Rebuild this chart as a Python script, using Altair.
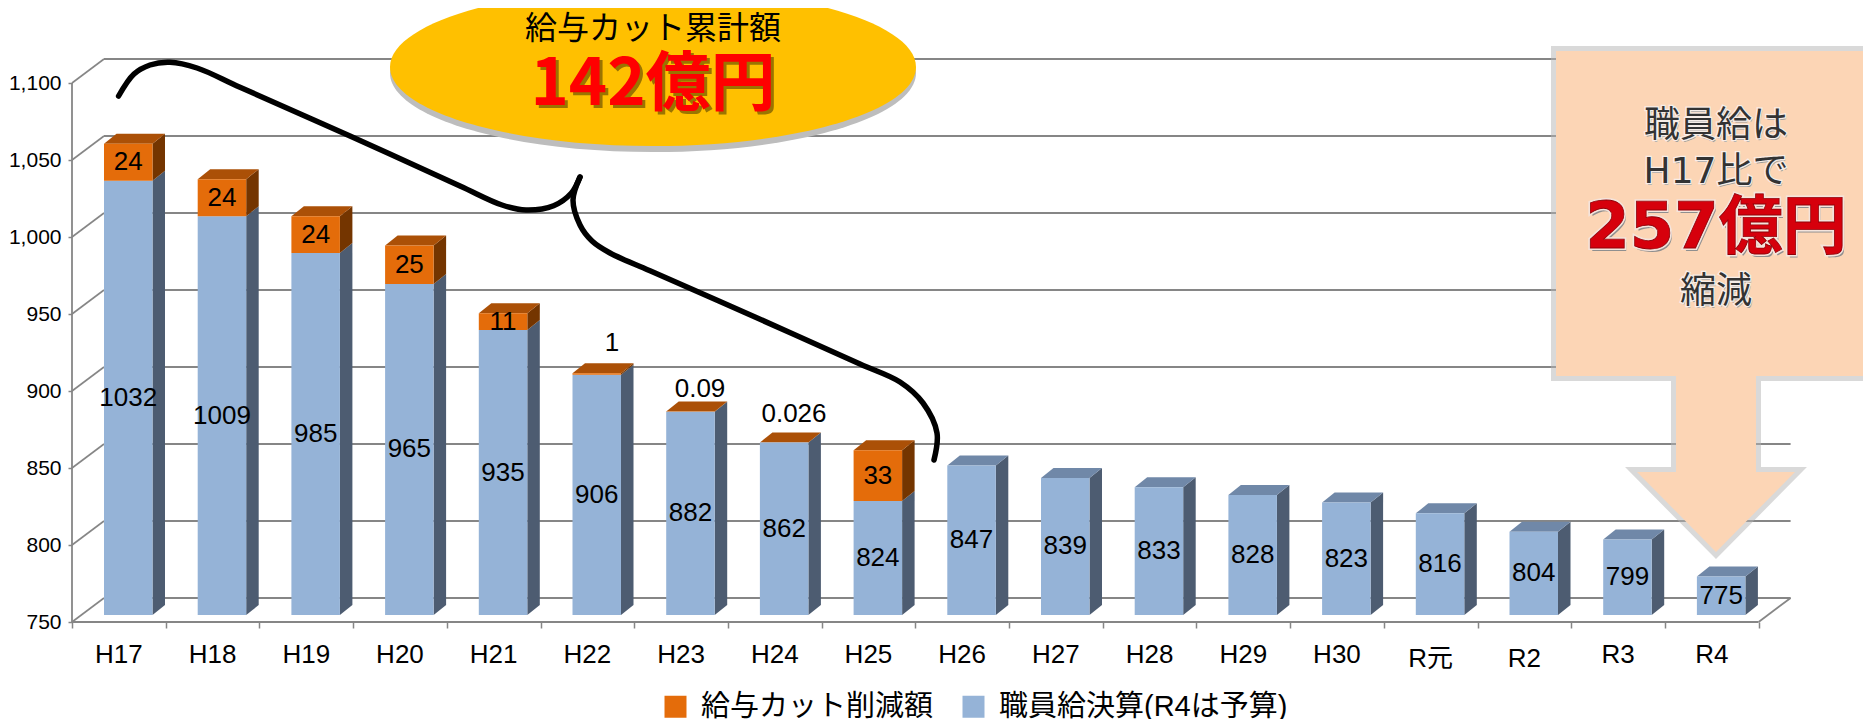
import altair as alt
import pandas as pd

# ---- data ----
YEARS = ["H17", "H18", "H19", "H20", "H21", "H22", "H23", "H24", "H25",
         "H26", "H27", "H28", "H29", "H30", "R元", "R2", "R3", "R4"]
SALARY = [1032, 1009, 985, 965, 935, 906, 882, 862, 824,
          847, 839, 833, 828, 823, 816, 804, 799, 775]
CUT = [24, 24, 24, 25, 11, 1, 0.09, 0.026, 33,
       0, 0, 0, 0, 0, 0, 0, 0, 0]
Y_TICKS = [750, 800, 850, 900, 950, 1000, 1050, 1100]
SERIES = ["給与カット削減額", "職員給決算(R4は予算)"]

# ---- page geometry (pixels) ----
W, H, MARGIN = 1855, 711, 8
X0, STEP = 72, 93.7          # front axis, category step
FLOOR, PX_UNIT = 622, 1.54   # y of value 750 on the front plane, px per unit
WALL_DX, WALL_DY = 32, 24    # back wall depth
BAR_LEFT, BAR_W = 104, 48.5  # first bar front face
BAR_BASE = 615
BAR_DX, BAR_DY = 12.5, 10    # bar depth

GREY = "#868686"
ORANGE, ORANGE_TOP, ORANGE_SIDE = "#E46C0A", "#AB5007", "#743500"
BLUE, BLUE_TOP, BLUE_SIDE = "#95B3D7", "#7088A8", "#4D5C71"
PEACH = "#FCD5B5"
LATIN = "Liberation Sans, Noto Sans CJK JP"
CJK = "Noto Sans CJK JP"
WIDE = "DejaVu Sans, Noto Sans CJK JP"


def ux(px):
    return (px - X0) / STEP


def uy(py):
    return 750 + (FLOOR - py) / PX_UNIT


x_scale = alt.Scale(domain=[ux(MARGIN), ux(MARGIN + W)], nice=False, zero=False)
y_scale = alt.Scale(domain=[uy(MARGIN + H), uy(MARGIN)], nice=False, zero=False)

y_axis = alt.Axis(values=Y_TICKS, labelExpr="format(datum.value, ',.0f')", offset=-(X0 - MARGIN),
                  domain=False, grid=False,
                  tickColor=GREY, tickWidth=1.5, tickSize=4, labelPadding=7,
                  labelFont=LATIN, labelFontSize=21, labelColor="#000000", title=None)
x_axis = alt.Axis(values=list(range(len(YEARS) + 1)), labels=False, domain=False, grid=False,
                  offset=-(MARGIN + H - FLOOR), tickColor=GREY, tickWidth=1.5, tickSize=6, title=None)


def X(f):
    return alt.X(f, type="quantitative", scale=x_scale, axis=x_axis)


def Y(f):
    return alt.Y(f, type="quantitative", scale=y_scale, axis=y_axis, stack=None)


def X2(f):
    return alt.X2(f)


def Y2(f):
    return alt.Y2(f)


# ---- back wall grid lines ----
wall_v = [t + WALL_DY / PX_UNIT for t in Y_TICKS]
wall = pd.DataFrame({"v": Y_TICKS, "y": wall_v, "x": [ux(X0 + WALL_DX)] * len(Y_TICKS),
                     "x2": [len(YEARS) + WALL_DX / STEP] * len(Y_TICKS)})
grid_back = alt.Chart(wall).mark_rule(color=GREY, strokeWidth=1.8).encode(
    x=X("x"), x2=X2("x2"), y=Y("y"))

diag = alt.Chart(pd.DataFrame({"x": [0.0] * 8, "x2": [WALL_DX / STEP] * 8, "y": Y_TICKS, "y2": wall_v})
                 ).mark_rule(color=GREY, strokeWidth=1.6).encode(
    x=X("x"), x2=X2("x2"), y=Y("y"), y2=Y2("y2"))

frame = alt.Chart(pd.DataFrame({
    "x": [0.0, 0.0, float(len(YEARS))],
    "x2": [0.0, float(len(YEARS)), len(YEARS) + WALL_DX / STEP],
    "y": [750.0, 750.0, 750.0],
    "y2": [1100.0, 750.0, 750 + WALL_DY / PX_UNIT]})).mark_rule(color=GREY, strokeWidth=1.8).encode(
    x=X("x"), x2=X2("x2"), y=Y("y"), y2=Y2("y2"))

# ---- the bars: front faces, side faces, top faces ----
base_v = uy(BAR_BASE)
shift = base_v - 750
dxu, dvu = BAR_DX / STEP, BAR_DY / PX_UNIT
front, side, top = [], [], []
for i, (s, c) in enumerate(zip(SALARY, CUT)):
    xl = ux(BAR_LEFT) + i
    xr = xl + BAR_W / STEP
    blue_top = s + shift
    all_top = s + c + shift
    front.append(dict(s=SERIES[1], x=xl, x2=xr, y=base_v, y2=blue_top))
    for k, xx in enumerate([xr, xr + dxu]):
        side.append(dict(id=f"b{i}", x=xx, y=blue_top + k * dvu, y2=base_v + k * dvu, f=BLUE_SIDE))
    if c > 0:
        front.append(dict(s=SERIES[0], x=xl, x2=xr, y=blue_top, y2=all_top))
        for k, xx in enumerate([xr, xr + dxu]):
            side.append(dict(id=f"o{i}", x=xx, y=all_top + k * dvu, y2=blue_top + k * dvu, f=ORANGE_SIDE))
    tc = ORANGE_TOP if c > 0 else BLUE_TOP
    for k in range(2):
        top.append(dict(id=f"t{i}", y=all_top + k * dvu, x=xl + k * dxu, x2=xr + k * dxu, f=tc))

front_faces = alt.Chart(pd.DataFrame(front)).mark_rect().encode(
    x=X("x"), x2=X2("x2"), y=Y("y"), y2=Y2("y2"),
    color=alt.Color("s:N", scale=alt.Scale(domain=SERIES, range=[ORANGE, BLUE]),
                    sort=SERIES,
                    legend=alt.Legend(title=None, orient="none", legendX=661 - MARGIN, legendY=692 - MARGIN,
                                      direction="horizontal", columns=2, symbolType="square",
                                      symbolSize=484, symbolStrokeWidth=0, labelFont=LATIN,
                                      labelFontSize=29, labelOffset=11, labelLimit=600,
                                      columnPadding=25, labelColor="#000000")))
side_faces = alt.Chart(pd.DataFrame(side)).mark_area(interpolate="linear", line=False).encode(
    x=X("x"), y=Y("y"), y2=Y2("y2"), detail="id:N", fill=alt.Fill("f:N", scale=None))
top_faces = alt.Chart(pd.DataFrame(top)).mark_area(interpolate="linear", orient="horizontal").encode(
    y=Y("y"), x=X("x"), x2=X2("x2"), detail="id:N", fill=alt.Fill("f:N", scale=None))

# ---- value labels ----
LABEL_FONT = dict(font=LATIN, fontSize=26, color="#000000", baseline="middle", align="center")
mid_x = [ux(BAR_LEFT + BAR_W / 2) + i for i in range(len(YEARS))]
inner = [dict(x=mid_x[i], y=SALARY[i] / 2 + 375 + shift, t=str(SALARY[i])) for i in range(len(YEARS))]
inner += [dict(x=mid_x[i], y=SALARY[i] + CUT[i] / 2 + shift, t=str(CUT[i])) for i in range(len(YEARS)) if CUT[i] >= 11]
# the three small amounts sit above their bars
ABOVE = {5: (612, 343), 6: (700, 389), 7: (794, 414)}
above = [dict(x=ux(px), y=uy(py), t=str(CUT[i])) for i, (px, py) in ABOVE.items()]
val_labels = alt.Chart(pd.DataFrame(inner + above)).mark_text(**LABEL_FONT).encode(
    x=X("x"), y=Y("y"), text="t:N")

# ---- category labels ----
LOWERED = {"R元": 3.5, "R2": 3.5}
cat = pd.DataFrame({"x": [i + 0.5 for i in range(len(YEARS))],
                    "y": [uy(655 + LOWERED.get(n, 0)) for n in YEARS], "t": YEARS})
cat_labels = alt.Chart(cat).mark_text(**LABEL_FONT).encode(x=X("x"), y=Y("y"), text="t:N")


# ---- annotations ----
def text_at(t, px, py, **kw):
    df = pd.DataFrame({"x": [ux(px)], "y": [uy(py)], "t": [t]})
    opts = dict(baseline="middle", align="center")
    opts.update(kw)
    return alt.Chart(df).mark_text(**opts).encode(x=X("x"), y=Y("y"), text="t:N")


def shape_at(path, px, py, **kw):
    # size 4 makes one path unit equal to one pixel
    df = pd.DataFrame({"x": [ux(px)], "y": [uy(py)]})
    opts = dict(shape=path, size=4, opacity=1, filled=True)
    opts.update(kw)
    return alt.Chart(df).mark_point(**opts).encode(x=X("x"), y=Y("y"))


ELLIPSE = "M-263,0A263,79,0,1,1,263,0A263,79,0,1,1,-263,0Z"
ell_shadow = shape_at(ELLIPSE, 653, 73, fill="#BDBDBD", strokeWidth=0)
ell = shape_at(ELLIPSE, 653, 67, fill="#FFC000", strokeWidth=0)
ell_t1 = text_at("給与カット累計額", 653, 29, font=CJK, fontSize=32, color="#000000")
ell_s = text_at("142億円", 656, 88, font=CJK, fontSize=65, fontWeight="bold", color="#9A7400")
ell_t2 = text_at("142億円", 653, 85, font=CJK, fontSize=65, fontWeight="bold", color="#FF0000")

CALLOUT = ("M-160,0L160,0L160,325L40,325L40,421L79,421L0,501L-79,421L-40,421L-40,325L-160,325Z")
call_sh = shape_at(CALLOUT, 1716, 51, fill="#B4B4B4", stroke="#B4B4B4", strokeWidth=10,
                   opacity=0.5, strokeJoin="miter")
call = shape_at(CALLOUT, 1716, 51, fill=PEACH, strokeWidth=0)


def embossed(t, px, py, size, col, halo):
    kw = dict(font=WIDE, fontSize=size)
    return [text_at(t, px + 1, py + 2, color="#9A9A9A", **kw),
            text_at(t, px, py, color=halo, stroke=halo, strokeWidth=2.5, **kw),
            text_at(t, px, py, color=col, **kw)]


box_text = (embossed("職員給は", 1716, 126, 36, "#333333", "#F7EEE8")
            + embossed("H17比で", 1716, 172, 36, "#333333", "#F7EEE8")
            + embossed("縮減", 1716, 292, 36, "#333333", "#F7EEE8"))
big_kw = dict(font=WIDE, fontSize=64, fontWeight="bold")
box_big = [text_at("257億円", 1718, 232, color="#8F8F8F", **big_kw),
           text_at("257億円", 1716, 229, color="#F4E4DC", stroke="#F4E4DC", strokeWidth=4, **big_kw),
           text_at("257億円", 1716, 229, color="#D6000C", stroke="#8F0008", strokeWidth=0.8, **big_kw)]

BRACE_LEFT = [(118.6, 96), (134, 74), (150, 65), (170, 62.3), (197, 68), (240, 87.3), (350, 136), (460, 186), (502, 205),
              (526, 210), (553.6, 205.7), (571.4, 193), (580, 177)]
BRACE_RIGHT = [(580, 177), (573, 200), (580, 225), (592, 241), (610, 253), (650, 270.8), (755, 317), (860, 364), (900, 382),
               (923, 403), (937, 433), (934, 460)]
brace_rows = []
for seg, pts in enumerate([BRACE_LEFT, BRACE_RIGHT]):
    for n, (px, py) in enumerate(pts):
        brace_rows.append(dict(seg=seg, n=n, x=ux(px), y=uy(py)))
brace = alt.Chart(pd.DataFrame(brace_rows)).mark_line(
    color="#000000", strokeWidth=5.5, interpolate="catmull-rom", strokeCap="round", clip=False).encode(
    x=X("x"), y=Y("y"), detail="seg:N", order="n:Q")

chart = alt.layer(
    grid_back, diag, frame, side_faces, top_faces, front_faces, val_labels, cat_labels,
    brace, ell_shadow, ell, ell_t1, ell_s, ell_t2, call_sh, call,
    *box_text, *box_big,
).properties(
    width=W, height=H, padding=0, background="#FFFFFF",
    autosize=alt.AutoSizeParams(type="none"),
).configure_view(stroke=None)

chart.save("out.html", embed_options={"renderer": "svg", "actions": False})
